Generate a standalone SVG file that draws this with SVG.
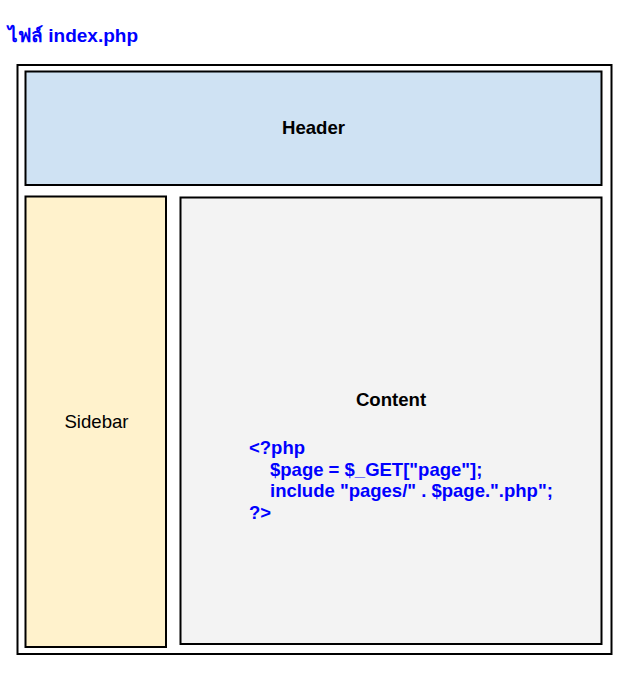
<svg xmlns="http://www.w3.org/2000/svg" width="638" height="681" viewBox="0 0 638 681">
<style>
.box{stroke:#000;stroke-width:2}
.t{font-family:"Liberation Sans",Arial,sans-serif;font-size:18.6px;fill:#000}
.b{font-weight:bold}
.code{font-family:"Liberation Sans",Arial,sans-serif;font-size:18.5px;font-weight:bold;fill:#0000ff}
</style>
<rect width="638" height="681" fill="#fff"/>
<text x="8" y="42" class="code" style="font-size:19px" font-family="'Liberation Sans','Noto Sans',sans-serif">ไฟล์ index.php</text>
<g id="page"><rect class="box" x="17.5" y="65" width="594" height="589" fill="#fff"/></g>
<g id="header"><rect class="box" x="25.5" y="71.5" width="576" height="113.5" fill="#cfe2f3"/>
<text class="t b" x="313.5" y="134" text-anchor="middle">Header</text></g>
<g id="sidebar"><rect class="box" x="25.5" y="196.5" width="140.5" height="450.5" fill="#fff2cc"/>
<text class="t" x="96.5" y="428" text-anchor="middle">Sidebar</text></g>
<g id="content"><rect class="box" x="180.5" y="197.5" width="421" height="446.5" fill="#f3f3f3"/>
<text class="t b" x="391" y="406" text-anchor="middle">Content</text>
<text class="code" x="249" y="454">&lt;?php</text>
<text class="code" x="270" y="475.5">$page = $_GET["page"];</text>
<text class="code" x="270" y="497">include "pages/" . $page.".php";</text>
<text class="code" x="249" y="518.5">?&gt;</text></g>
<g id="connectors"/>
</svg>
